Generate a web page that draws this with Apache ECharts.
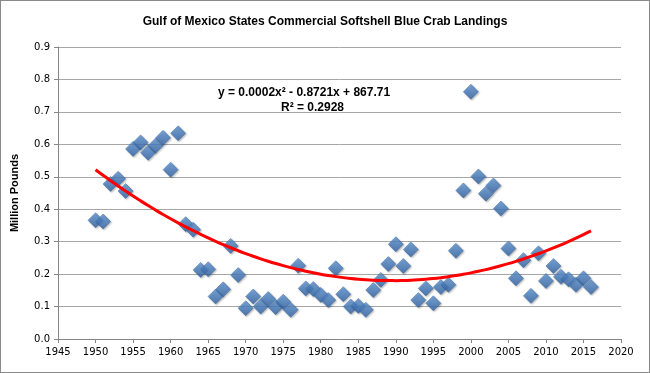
<!DOCTYPE html>
<html><head><meta charset="utf-8">
<script src="https://cdn.jsdelivr.net/npm/echarts@6/dist/echarts.min.js"></script>
<style>html,body{margin:0;padding:0;background:#fff}#c{width:650px;height:373px;box-sizing:border-box;border:1px solid #8a8a8a}</style>
</head><body><div id="c"></div>
<script>
const years = [];
for (let y = 1950; y <= 2016; y++) years.push(y);
const landings = [
  0.366,0.362,0.478,0.494,0.456,0.586,0.606,0.574,0.596,0.620,
  0.522,0.634,0.354,0.337,0.213,0.215,0.131,0.153,0.287,0.197,
  0.095,0.131,0.100,0.123,0.098,0.115,0.090,0.226,0.156,0.154,
  0.136,0.120,0.218,0.138,0.100,0.102,0.090,0.151,0.182,0.231,
  0.292,0.225,0.276,0.120,0.156,0.110,0.160,0.167,0.272,0.458,
  0.762,0.501,0.448,0.473,0.402,0.279,0.187,0.243,0.133,0.264,
  0.179,0.225,0.192,0.184,0.167,0.187,0.160
];
const xTicks = [1945,2020,5];
const yTicks = [0,0.9,0.1];
const equationText = 'y = 0.0002x² - 0.8721x + 867.71';
const r2Text = 'R² = 0.2928';

// least-squares quadratic fit of the data (trendline)
function quadFit(xs, ys){
  const m = xs.reduce((a,b)=>a+b,0)/xs.length;
  let S=[0,0,0,0,0], T=[0,0,0];
  xs.forEach((x,i)=>{const t=x-m;let p=1;for(let k=0;k<5;k++){S[k]+=p;if(k<3)T[k]+=p*ys[i];p*=t;}});
  const A=[[S[0],S[1],S[2],T[0]],[S[1],S[2],S[3],T[1]],[S[2],S[3],S[4],T[2]]];
  for(let i=0;i<3;i++){for(let j=i+1;j<3;j++){const f=A[j][i]/A[i][i];for(let k=i;k<4;k++)A[j][k]-=f*A[i][k];}}
  const c=[0,0,0];
  for(let i=2;i>=0;i--){let s=A[i][3];for(let k=i+1;k<3;k++)s-=A[i][k]*c[k];c[i]=s/A[i][i];}
  return x=>{const t=x-m;return c[0]+c[1]*t+c[2]*t*t;};
}
const f = quadFit(years, landings);
const trend = years.map(y=>[y, f(y)]);

const chart = echarts.init(document.getElementById('c'));
chart.setOption({
  animation:false,
  title:{text:'Gulf of Mexico States Commercial Softshell Blue Crab Landings',left:'center',top:10,
    textStyle:{fontFamily:'Liberation Sans',fontWeight:'bold',fontSize:12,color:'#000'}},
  grid:{left:55,right:28,top:46,bottom:33},
  xAxis:{type:'value',min:xTicks[0],max:xTicks[1],interval:xTicks[2],
    axisLine:{lineStyle:{color:'#868686'}},axisTick:{length:4,lineStyle:{color:'#868686'}},
    splitLine:{show:false},
    axisLabel:{margin:8,fontFamily:'DejaVu Sans',fontSize:10,color:'#000',formatter:v=>String(v)}},
  yAxis:{type:'value',min:yTicks[0],max:yTicks[1],interval:yTicks[2],
    name:'Million Pounds',nameLocation:'middle',nameGap:38,
    nameTextStyle:{fontFamily:'Liberation Sans',fontWeight:'bold',fontSize:11,color:'#000'},
    axisLine:{show:true,lineStyle:{color:'#868686'}},axisTick:{show:true,length:4,lineStyle:{color:'#868686'}},
    splitLine:{lineStyle:{color:'#a6a6a6'}},
    axisLabel:{margin:8,fontFamily:'DejaVu Sans',fontSize:10,color:'#000',formatter:v=>v.toFixed(1)}},
  graphic:[
    {type:'text',left:217,top:86,style:{text:equationText,font:'bold 12px "Liberation Sans"',fill:'#000'}},
    {type:'text',left:280,top:101,style:{text:r2Text,font:'bold 12px "Liberation Sans"',fill:'#000'}}
  ],
  series:[
    {type:'scatter',data:years.map((y,i)=>[y,landings[i]]),symbol:'diamond',symbolSize:15,
      itemStyle:{color:new echarts.graphic.LinearGradient(0,0,0,1,[{offset:0,color:'#629ad9'},{offset:1,color:'#3163a6'}]),
        borderColor:'#33649f',borderWidth:0.6,shadowColor:'rgba(0,0,0,0.35)',shadowBlur:2,shadowOffsetX:1,shadowOffsetY:1}},
    {type:'line',data:trend,showSymbol:false,smooth:true,lineStyle:{color:'#ff0000',width:3},z:3}
  ]
});
</script></body></html>
